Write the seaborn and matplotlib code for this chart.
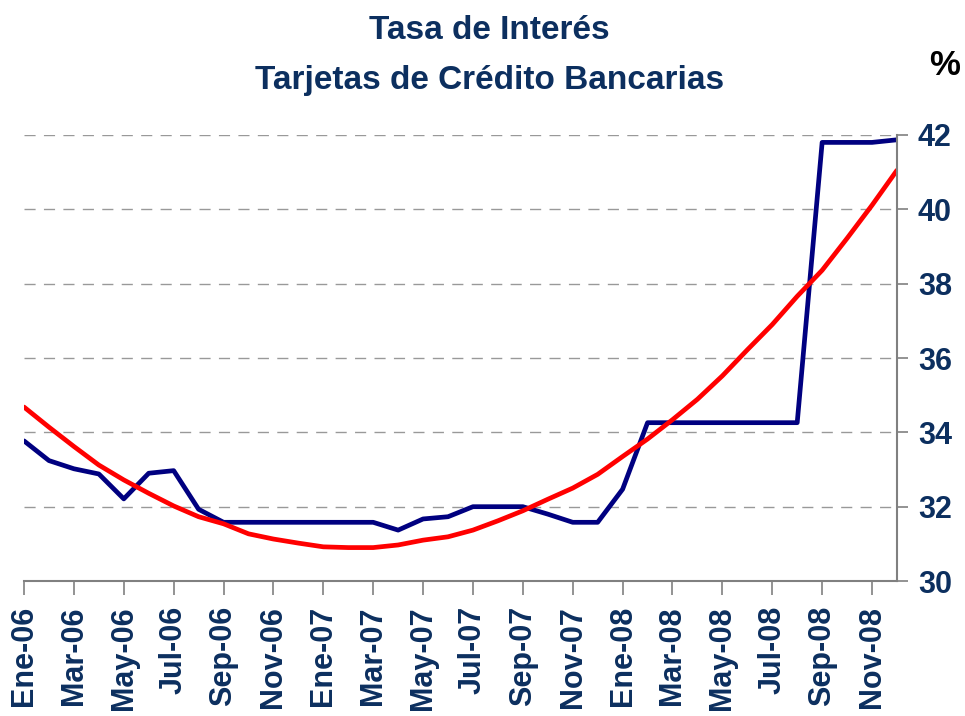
import matplotlib
matplotlib.use("Agg")
import matplotlib.pyplot as plt
import seaborn as sns
import pandas as pd

# datos mensuales ene-06 .. dic-08
meses = ['Ene-06', 'Feb-06', 'Mar-06', 'Abr-06', 'May-06', 'Jun-06', 'Jul-06', 'Ago-06', 'Sep-06', 'Oct-06', 'Nov-06', 'Dic-06',
         'Ene-07', 'Feb-07', 'Mar-07', 'Abr-07', 'May-07', 'Jun-07', 'Jul-07', 'Ago-07', 'Sep-07', 'Oct-07', 'Nov-07', 'Dic-07',
         'Ene-08', 'Feb-08', 'Mar-08', 'Abr-08', 'May-08', 'Jun-08', 'Jul-08', 'Ago-08', 'Sep-08', 'Oct-08', 'Nov-08', 'Dic-08']

tasa = [33.77, 33.24, 33.02, 32.88, 32.21, 32.90, 32.97, 31.93, 31.58, 31.58, 31.58, 31.58,
        31.58, 31.58, 31.58, 31.37, 31.67, 31.73, 32.00, 32.00, 32.00, 31.80, 31.58, 31.58,
        32.47, 34.26, 34.26, 34.26, 34.26, 34.26, 34.26, 34.26, 41.80, 41.80, 41.80, 41.87]

tendencia = [34.68, 34.14, 33.62, 33.12, 32.72, 32.36, 32.02, 31.73, 31.54, 31.27, 31.13, 31.02,
             30.92, 30.90, 30.90, 30.97, 31.10, 31.19, 31.37, 31.62, 31.89, 32.20, 32.50, 32.87,
             33.35, 33.82, 34.34, 34.89, 35.52, 36.22, 36.90, 37.66, 38.36, 39.22, 40.11, 41.05]

yticks = [30, 32, 34, 36, 38, 40, 42]

azul_texto = '#0c2f5f'

sns.set_theme(style='white')
plt.rcParams['font.family'] = ['Liberation Sans', 'DejaVu Sans']

df = pd.DataFrame({'x': range(len(meses)), 'tasa': tasa, 'tendencia': tendencia})

fig = plt.figure(figsize=(9.65, 7.16), dpi=100)
ax = fig.add_axes([0.0249, 0.1885, 0.9046, 0.6230])

sns.lineplot(data=df, x='x', y='tasa', ax=ax, color='#000080', linewidth=3.4)
sns.lineplot(data=df, x='x', y='tendencia', ax=ax, color='#ff0000', linewidth=3.4)

ax.set_xlim(0, len(meses) - 1)
ax.set_ylim(30, 42)

# eje y a la derecha
ax.yaxis.tick_right()
ax.set_yticks(yticks)
ax.set_yticklabels([str(v) for v in yticks], fontsize=22, fontweight='bold', color=azul_texto)
ax.tick_params(axis='y', direction='out', length=8, width=1.2, color='#808080', pad=7, right=True)

ax.set_xticks(range(0, len(meses), 2))
ax.set_xticklabels(meses[::2], rotation=90, fontsize=22, fontweight='bold', color=azul_texto, va='top')
ax.tick_params(axis='x', direction='out', length=10, width=1.2, color='#808080', pad=8, bottom=True)

ax.set_xlabel('')
ax.set_ylabel('')

for v in yticks[1:]:
    ax.axhline(v, color='#999999', linewidth=1, linestyle=(0, (8, 6)), zorder=0)

for s in ['top', 'left']:
    ax.spines[s].set_visible(False)
for s in ['bottom', 'right']:
    ax.spines[s].set_color('#808080')
    ax.spines[s].set_linewidth(1.5)

fig.text(0.507, 0.958, 'Tasa de Interés', ha='center', va='center', fontsize=24,
         fontweight='bold', color=azul_texto)
fig.text(0.507, 0.888, 'Tarjetas de Crédito Bancarias', ha='center', va='center', fontsize=24,
         fontweight='bold', color=azul_texto)
fig.text(0.979, 0.908, '%', ha='center', va='center', fontsize=25, fontweight='bold', color='black')

fig.savefig('out.png', dpi=100, facecolor='white')
